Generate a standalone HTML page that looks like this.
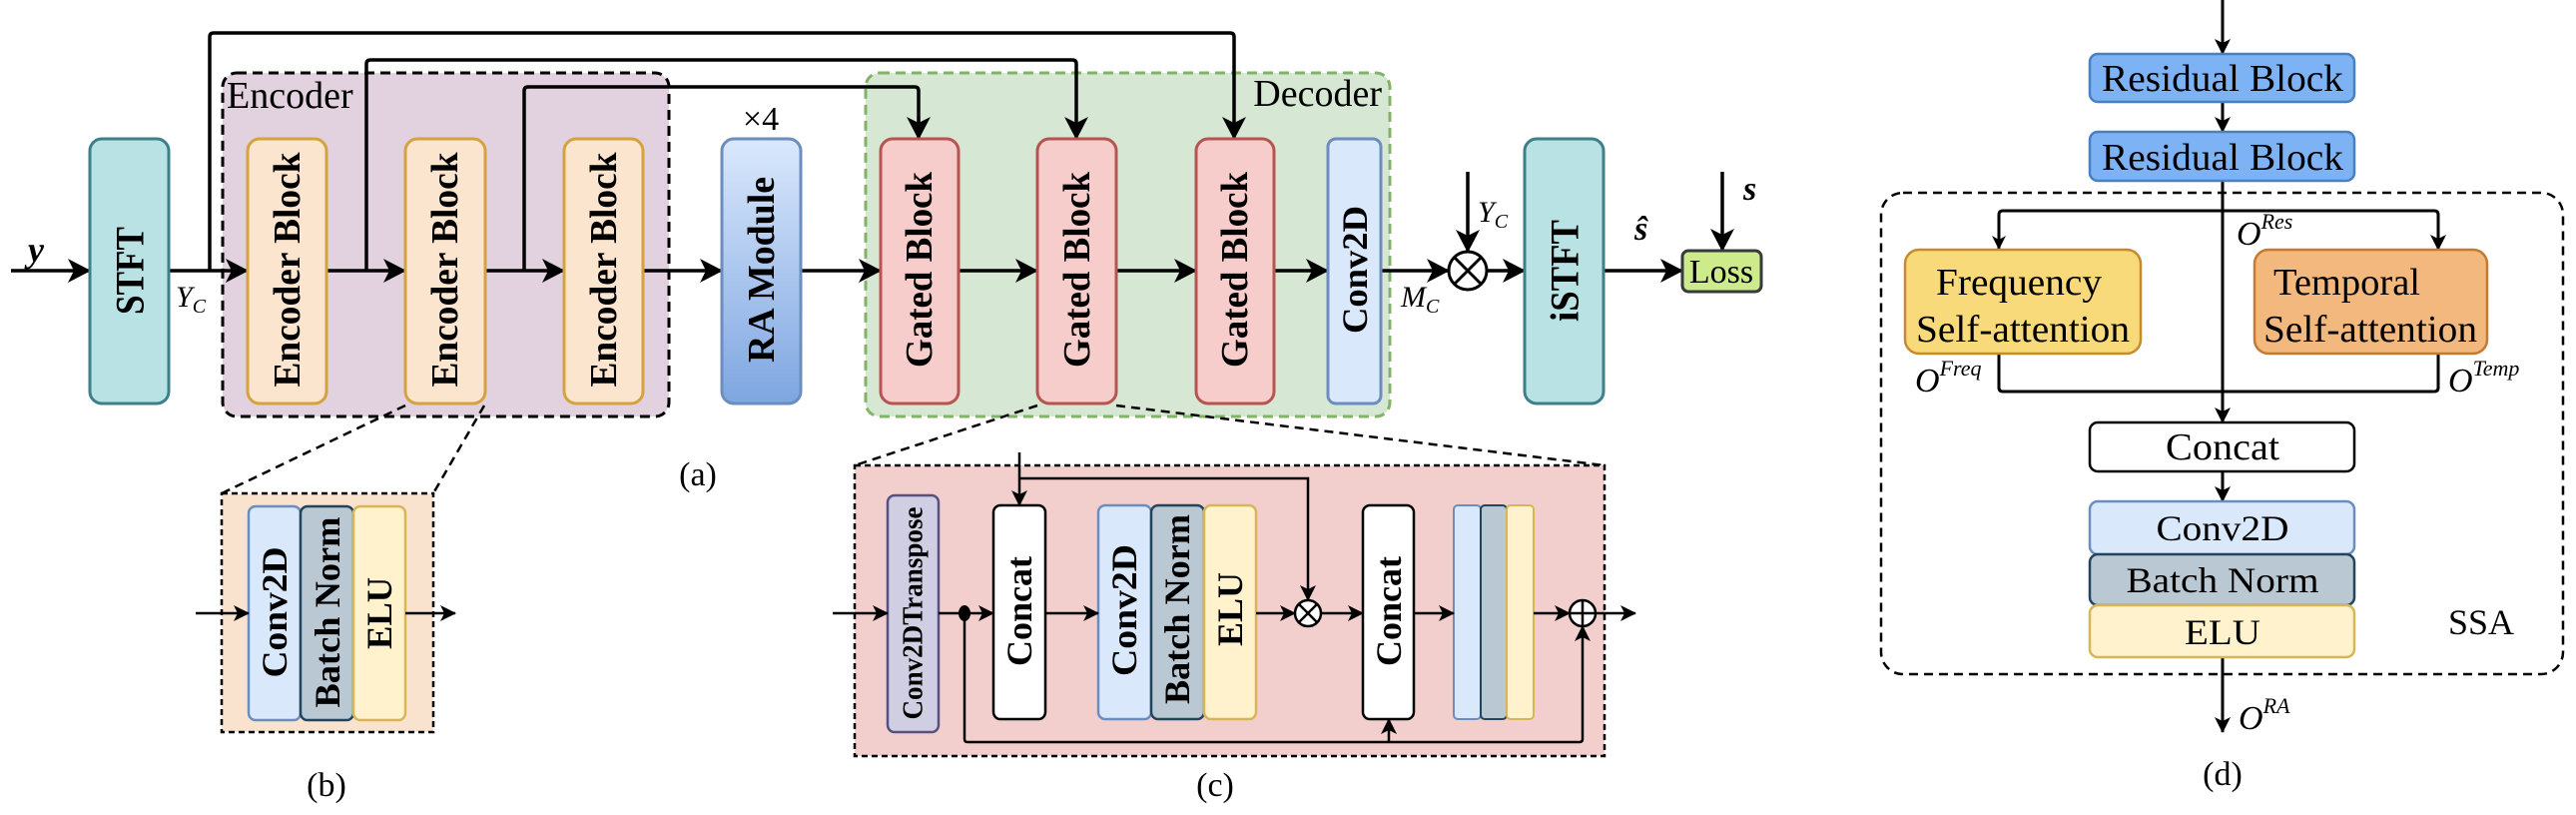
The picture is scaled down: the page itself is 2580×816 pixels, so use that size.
<!DOCTYPE html>
<html><head><meta charset="utf-8"><style>
html,body{margin:0;padding:0;background:#fff;}
svg{display:block;}
text{font-family:"Liberation Serif",serif;fill:#000;}
.b{font-weight:bold;}
.i{font-style:italic;}
</style></head><body>
<svg width="2580" height="816" viewBox="0 0 2580 816" xmlns="http://www.w3.org/2000/svg">
<defs>
<marker id="A" markerUnits="userSpaceOnUse" markerWidth="24" markerHeight="24" refX="22" refY="12" orient="auto">
<path d="M0,0 L23,12 L0,24 L6,12 z" fill="#000"/></marker>
<marker id="S" markerUnits="userSpaceOnUse" markerWidth="16" markerHeight="16" refX="15" refY="8" orient="auto">
<path d="M0,0 L16,8 L0,16 L4,8 z" fill="#000"/></marker>
<linearGradient id="ra" x1="0" y1="0" x2="0" y2="1"><stop offset="0" stop-color="#dae8fc"/><stop offset="1" stop-color="#7ea6e0"/></linearGradient>
</defs>

<rect x="223" y="73" width="447" height="344" rx="14" fill="#e2d1de" stroke="#000" stroke-width="3" stroke-dasharray="10,6"/>
<rect x="867" y="73" width="525" height="344" rx="14" fill="#d6e7d4" stroke="#82b366" stroke-width="3" stroke-dasharray="10,6"/>
<text x="227" y="108" font-size="38">Encoder</text>
<text x="1384" y="106" font-size="38" text-anchor="end">Decoder</text>

<g fill="none" stroke="#000" stroke-width="3.5">
<path d="M210,271 V37 Q210,33 214,33 H1232 Q1236,33 1236,37 V139" marker-end="url(#A)"/>
<path d="M367,271 V64 Q367,60 371,60 H1074 Q1078,60 1078,64 V139" marker-end="url(#A)"/>
<path d="M525,271 V91 Q525,87 529,87 H916 Q920,87 920,91 V139" marker-end="url(#A)"/>
<line x1="11" y1="271" x2="90" y2="271" marker-end="url(#A)"/>
<line x1="169" y1="271" x2="248" y2="271" marker-end="url(#A)"/>
<line x1="327" y1="271" x2="406" y2="271" marker-end="url(#A)"/>
<line x1="486" y1="271" x2="565" y2="271" marker-end="url(#A)"/>
<line x1="644" y1="271" x2="723" y2="271" marker-end="url(#A)"/>
<line x1="802" y1="271" x2="882" y2="271" marker-end="url(#A)"/>
<line x1="960" y1="271" x2="1039" y2="271" marker-end="url(#A)"/>
<line x1="1118" y1="271" x2="1198" y2="271" marker-end="url(#A)"/>
<line x1="1276" y1="271" x2="1330" y2="271" marker-end="url(#A)"/>
<line x1="1383" y1="271" x2="1451" y2="271" marker-end="url(#A)"/>
<line x1="1489" y1="271" x2="1527" y2="271" marker-end="url(#A)"/>
<line x1="1606" y1="271" x2="1685" y2="271" marker-end="url(#A)"/>
<line x1="1470" y1="172" x2="1470" y2="252" marker-end="url(#A)"/>
<line x1="1725" y1="172" x2="1725" y2="251" marker-end="url(#A)"/>
</g>

<rect x="90" y="139" width="79" height="265" rx="12" fill="#b9e2e5" stroke="#3d8088" stroke-width="3"/>
<text class="b" font-size="40" transform="translate(130,271) rotate(-90)" text-anchor="middle" dominant-baseline="central" textLength="88" lengthAdjust="spacingAndGlyphs">STFT</text>
<g fill="#fbe5cf" stroke="#d6a13f" stroke-width="3">
<rect x="248" y="139" width="79" height="265" rx="12"/>
<rect x="406" y="139" width="80" height="265" rx="12"/>
<rect x="565" y="139" width="79" height="265" rx="12"/>
</g>
<text class="b" font-size="38" transform="translate(288,270) rotate(-90)" text-anchor="middle" dominant-baseline="central" textLength="235" lengthAdjust="spacingAndGlyphs">Encoder Block</text>
<text class="b" font-size="38" transform="translate(446,270) rotate(-90)" text-anchor="middle" dominant-baseline="central" textLength="235" lengthAdjust="spacingAndGlyphs">Encoder Block</text>
<text class="b" font-size="38" transform="translate(605,270) rotate(-90)" text-anchor="middle" dominant-baseline="central" textLength="235" lengthAdjust="spacingAndGlyphs">Encoder Block</text>
<rect x="723" y="139" width="79" height="265" rx="12" fill="url(#ra)" stroke="#6c8ebf" stroke-width="3"/>
<text class="b" font-size="38" transform="translate(763,270) rotate(-90)" text-anchor="middle" dominant-baseline="central" textLength="186" lengthAdjust="spacingAndGlyphs">RA Module</text>
<text x="762" y="130" font-size="34" text-anchor="middle">×4</text>
<g fill="#f6cdcb" stroke="#b85450" stroke-width="3">
<rect x="882" y="139" width="78" height="265" rx="12"/>
<rect x="1039" y="139" width="79" height="265" rx="12"/>
<rect x="1198" y="139" width="78" height="265" rx="12"/>
</g>
<text class="b" font-size="38" transform="translate(921,270) rotate(-90)" text-anchor="middle" dominant-baseline="central" textLength="196" lengthAdjust="spacingAndGlyphs">Gated Block</text>
<text class="b" font-size="38" transform="translate(1079,270) rotate(-90)" text-anchor="middle" dominant-baseline="central" textLength="196" lengthAdjust="spacingAndGlyphs">Gated Block</text>
<text class="b" font-size="38" transform="translate(1237,270) rotate(-90)" text-anchor="middle" dominant-baseline="central" textLength="196" lengthAdjust="spacingAndGlyphs">Gated Block</text>
<rect x="1330" y="139" width="53" height="265" rx="8" fill="#dae8fc" stroke="#6c8ebf" stroke-width="3"/>
<text class="b" font-size="36" transform="translate(1357,270) rotate(-90)" text-anchor="middle" dominant-baseline="central" textLength="128" lengthAdjust="spacingAndGlyphs">Conv2D</text>
<rect x="1527" y="139" width="79" height="265" rx="12" fill="#b9e2e5" stroke="#3d8088" stroke-width="3"/>
<text class="b" font-size="40" transform="translate(1567,271) rotate(-90)" text-anchor="middle" dominant-baseline="central" textLength="102" lengthAdjust="spacingAndGlyphs">iSTFT</text>
<rect x="1685" y="251" width="79" height="41" rx="6" fill="#cdeb8b" stroke="#36393d" stroke-width="3"/>
<text x="1724" y="283" font-size="34" text-anchor="middle">Loss</text>
<circle cx="1470" cy="271" r="19" fill="#fff" stroke="#000" stroke-width="3"/>
<path d="M1457,258 L1483,284 M1483,258 L1457,284" stroke="#000" stroke-width="3"/>
<text x="28" y="262" font-size="36" class="b i">y</text>
<text x="176" y="307" font-size="30" class="i">Y<tspan font-size="20" dy="6">C</tspan></text>
<text x="1480" y="222" font-size="30" class="i">Y<tspan font-size="20" dy="6">C</tspan></text>
<text x="1403" y="307" font-size="30" class="i">M<tspan font-size="20" dy="6">C</tspan></text>
<text x="1637" y="240" font-size="34" class="b i">ŝ</text>
<text x="1746" y="200" font-size="34" class="b i">s</text>
<text x="699" y="486" font-size="34" text-anchor="middle">(a)</text>

<g stroke="#000" stroke-width="2.5" stroke-dasharray="9,6" fill="none">
<line x1="406" y1="406" x2="222" y2="494"/>
<line x1="485" y1="406" x2="434" y2="494"/>
<line x1="1039" y1="406" x2="856" y2="466"/>
<line x1="1118" y1="406" x2="1607" y2="466"/>
</g>

<rect x="222" y="494" width="212" height="239" fill="#f9e3cf" stroke="#000" stroke-width="2.5" stroke-dasharray="6,4"/>
<rect x="249" y="507" width="52" height="214" rx="7" fill="#dae8fc" stroke="#6c8ebf" stroke-width="2.5"/>
<rect x="301" y="507" width="53" height="214" rx="7" fill="#bac8d3" stroke="#23445d" stroke-width="2.5"/>
<rect x="354" y="507" width="52" height="214" rx="7" fill="#fff2cc" stroke="#d6b656" stroke-width="2.5"/>
<text class="b" font-size="36" transform="translate(275,613) rotate(-90)" text-anchor="middle" dominant-baseline="central" textLength="131" lengthAdjust="spacingAndGlyphs">Conv2D</text>
<text class="b" font-size="36" transform="translate(328,613) rotate(-90)" text-anchor="middle" dominant-baseline="central" textLength="191" lengthAdjust="spacingAndGlyphs">Batch Norm</text>
<text class="b" font-size="36" transform="translate(380,614) rotate(-90)" text-anchor="middle" dominant-baseline="central" textLength="72" lengthAdjust="spacingAndGlyphs">ELU</text>
<g stroke="#000" stroke-width="2.5" fill="none">
<line x1="196" y1="614" x2="249" y2="614" marker-end="url(#S)"/>
<line x1="406" y1="614" x2="456" y2="614" marker-end="url(#S)"/>
</g>
<text x="327" y="797" font-size="34" text-anchor="middle">(b)</text>

<rect x="856" y="466" width="751" height="291" fill="#f2cecc" stroke="#000" stroke-width="2.5" stroke-dasharray="6,4"/>
<rect x="889" y="496" width="51" height="237" rx="7" fill="#d0cee2" stroke="#56517e" stroke-width="2.5"/>
<text class="b" font-size="28" transform="translate(915,614) rotate(-90)" text-anchor="middle" dominant-baseline="central" textLength="213" lengthAdjust="spacingAndGlyphs">Conv2DTranspose</text>
<rect x="995" y="506" width="52" height="214" rx="7" fill="#fff" stroke="#000" stroke-width="2.5"/>
<text class="b" font-size="36" transform="translate(1021,612) rotate(-90)" text-anchor="middle" dominant-baseline="central" textLength="110" lengthAdjust="spacingAndGlyphs">Concat</text>
<rect x="1100" y="506" width="53" height="214" rx="7" fill="#dae8fc" stroke="#6c8ebf" stroke-width="2.5"/>
<rect x="1153" y="506" width="53" height="214" rx="7" fill="#bac8d3" stroke="#23445d" stroke-width="2.5"/>
<rect x="1206" y="506" width="52" height="214" rx="7" fill="#fff2cc" stroke="#d6b656" stroke-width="2.5"/>
<text class="b" font-size="36" transform="translate(1126,611) rotate(-90)" text-anchor="middle" dominant-baseline="central" textLength="132" lengthAdjust="spacingAndGlyphs">Conv2D</text>
<text class="b" font-size="36" transform="translate(1179,610) rotate(-90)" text-anchor="middle" dominant-baseline="central" textLength="190" lengthAdjust="spacingAndGlyphs">Batch Norm</text>
<text class="b" font-size="36" transform="translate(1232,610) rotate(-90)" text-anchor="middle" dominant-baseline="central" textLength="74" lengthAdjust="spacingAndGlyphs">ELU</text>
<rect x="1365" y="506" width="51" height="214" rx="7" fill="#fff" stroke="#000" stroke-width="2.5"/>
<text class="b" font-size="36" transform="translate(1391,612) rotate(-90)" text-anchor="middle" dominant-baseline="central" textLength="110" lengthAdjust="spacingAndGlyphs">Concat</text>
<rect x="1456" y="506" width="27" height="214" rx="4" fill="#dae8fc" stroke="#6c8ebf" stroke-width="2"/>
<rect x="1483" y="506" width="26" height="214" rx="4" fill="#bac8d3" stroke="#23445d" stroke-width="2"/>
<rect x="1509" y="506" width="27" height="214" rx="4" fill="#fff2cc" stroke="#d6b656" stroke-width="2"/>
<g stroke="#000" stroke-width="2.5" fill="none">
<line x1="834" y1="614" x2="889" y2="614" marker-end="url(#S)"/>
<line x1="940" y1="614" x2="995" y2="614" marker-end="url(#S)"/>
<line x1="1047" y1="614" x2="1100" y2="614" marker-end="url(#S)"/>
<line x1="1258" y1="614" x2="1297" y2="614" marker-end="url(#S)"/>
<line x1="1323" y1="614" x2="1365" y2="614" marker-end="url(#S)"/>
<line x1="1416" y1="614" x2="1456" y2="614" marker-end="url(#S)"/>
<line x1="1536" y1="614" x2="1572" y2="614" marker-end="url(#S)"/>
<line x1="1598" y1="614" x2="1638" y2="614" marker-end="url(#S)"/>
<line x1="1021" y1="453" x2="1021" y2="506" marker-end="url(#S)"/>
<path d="M1021,479 H1310 V601" marker-end="url(#S)"/>
<path d="M966,614 V740 Q966,743 969,743 H1582 Q1585,743 1585,740 V627" marker-end="url(#S)"/>
<line x1="1391" y1="743" x2="1391" y2="720" marker-end="url(#S)"/>
</g>
<ellipse cx="966" cy="614" rx="6" ry="8" fill="#000"/>
<circle cx="1310" cy="614" r="13" fill="#fff" stroke="#000" stroke-width="2.5"/>
<path d="M1301,605 L1319,623 M1319,605 L1301,623" stroke="#000" stroke-width="2.5"/>
<circle cx="1585" cy="614" r="13" fill="#fff" stroke="#000" stroke-width="2.5"/>
<path d="M1572,614 H1598 M1585,601 V627" stroke="#000" stroke-width="2.5"/>
<text x="1217" y="797" font-size="34" text-anchor="middle">(c)</text>

<rect x="1884" y="193" width="683" height="482" rx="22" fill="none" stroke="#000" stroke-width="2.5" stroke-dasharray="9,6"/>
<g stroke="#000" stroke-width="3" fill="none">
<line x1="2226" y1="0" x2="2226" y2="54" marker-end="url(#S)"/>
<line x1="2226" y1="102" x2="2226" y2="132" marker-end="url(#S)"/>
<line x1="2226" y1="181" x2="2226" y2="423" marker-end="url(#S)"/>
<path d="M2002,250 V215 Q2002,211 2006,211 H2438 Q2442,211 2442,215 V250" marker-end="url(#S)"/>
<path d="M2002,354 V388 Q2002,392 2006,392 H2438 Q2442,392 2442,388 V354"/>
<line x1="2226" y1="472" x2="2226" y2="502" marker-end="url(#S)"/>
<line x1="2226" y1="658" x2="2226" y2="733" marker-end="url(#S)"/>
</g>
<path d="M2002,250 L1995,236 L2002,240 L2009,236 z" fill="#000"/>
<rect x="2093" y="54" width="265" height="48" rx="8" fill="#7db3f5" stroke="#4a7fc0" stroke-width="2.5"/>
<text x="2226" y="91" font-size="38" text-anchor="middle" textLength="242" lengthAdjust="spacingAndGlyphs">Residual Block</text>
<rect x="2093" y="132" width="265" height="49" rx="8" fill="#7db3f5" stroke="#4a7fc0" stroke-width="2.5"/>
<text x="2226" y="170" font-size="38" text-anchor="middle" textLength="242" lengthAdjust="spacingAndGlyphs">Residual Block</text>
<rect x="1908" y="250" width="236" height="104" rx="14" fill="#f8da7a" stroke="#c88a2e" stroke-width="2.5"/>
<text x="2022" y="295" font-size="38" text-anchor="middle" textLength="166" lengthAdjust="spacingAndGlyphs">Frequency</text>
<text x="2026" y="342" font-size="38" text-anchor="middle" textLength="214" lengthAdjust="spacingAndGlyphs">Self-attention</text>
<rect x="2258" y="250" width="233" height="104" rx="14" fill="#f2b87d" stroke="#c47a30" stroke-width="2.5"/>
<text x="2424" y="295" font-size="38" text-anchor="end" textLength="147" lengthAdjust="spacingAndGlyphs">Temporal</text>
<text x="2374" y="342" font-size="38" text-anchor="middle" textLength="214" lengthAdjust="spacingAndGlyphs">Self-attention</text>
<text x="2240" y="245" font-size="34" class="i">O<tspan font-size="22" dy="-16">Res</tspan></text>
<text x="1918" y="392" font-size="34" class="i">O<tspan font-size="22" dy="-16">Freq</tspan></text>
<text x="2452" y="392" font-size="34" class="i">O<tspan font-size="22" dy="-16">Temp</tspan></text>
<rect x="2093" y="423" width="265" height="49" rx="8" fill="#fff" stroke="#000" stroke-width="2.5"/>
<text x="2226" y="460" font-size="38" text-anchor="middle" textLength="114" lengthAdjust="spacingAndGlyphs">Concat</text>
<rect x="2093" y="502" width="265" height="53" rx="8" fill="#dae8fc" stroke="#6c8ebf" stroke-width="2.5"/>
<text x="2226" y="541" font-size="36" text-anchor="middle" textLength="133" lengthAdjust="spacingAndGlyphs">Conv2D</text>
<rect x="2093" y="555" width="265" height="51" rx="8" fill="#bac8d3" stroke="#23445d" stroke-width="2.5"/>
<text x="2226" y="593" font-size="36" text-anchor="middle" textLength="193" lengthAdjust="spacingAndGlyphs">Batch Norm</text>
<rect x="2093" y="606" width="265" height="52" rx="8" fill="#fff2cc" stroke="#d6b656" stroke-width="2.5"/>
<text x="2226" y="645" font-size="36" text-anchor="middle" textLength="76" lengthAdjust="spacingAndGlyphs">ELU</text>
<text x="2485" y="635" font-size="36" text-anchor="middle">SSA</text>
<text x="2242" y="730" font-size="34" class="i">O<tspan font-size="22" dy="-16">RA</tspan></text>
<text x="2226" y="786" font-size="34" text-anchor="middle">(d)</text>
</svg>
</body></html>
